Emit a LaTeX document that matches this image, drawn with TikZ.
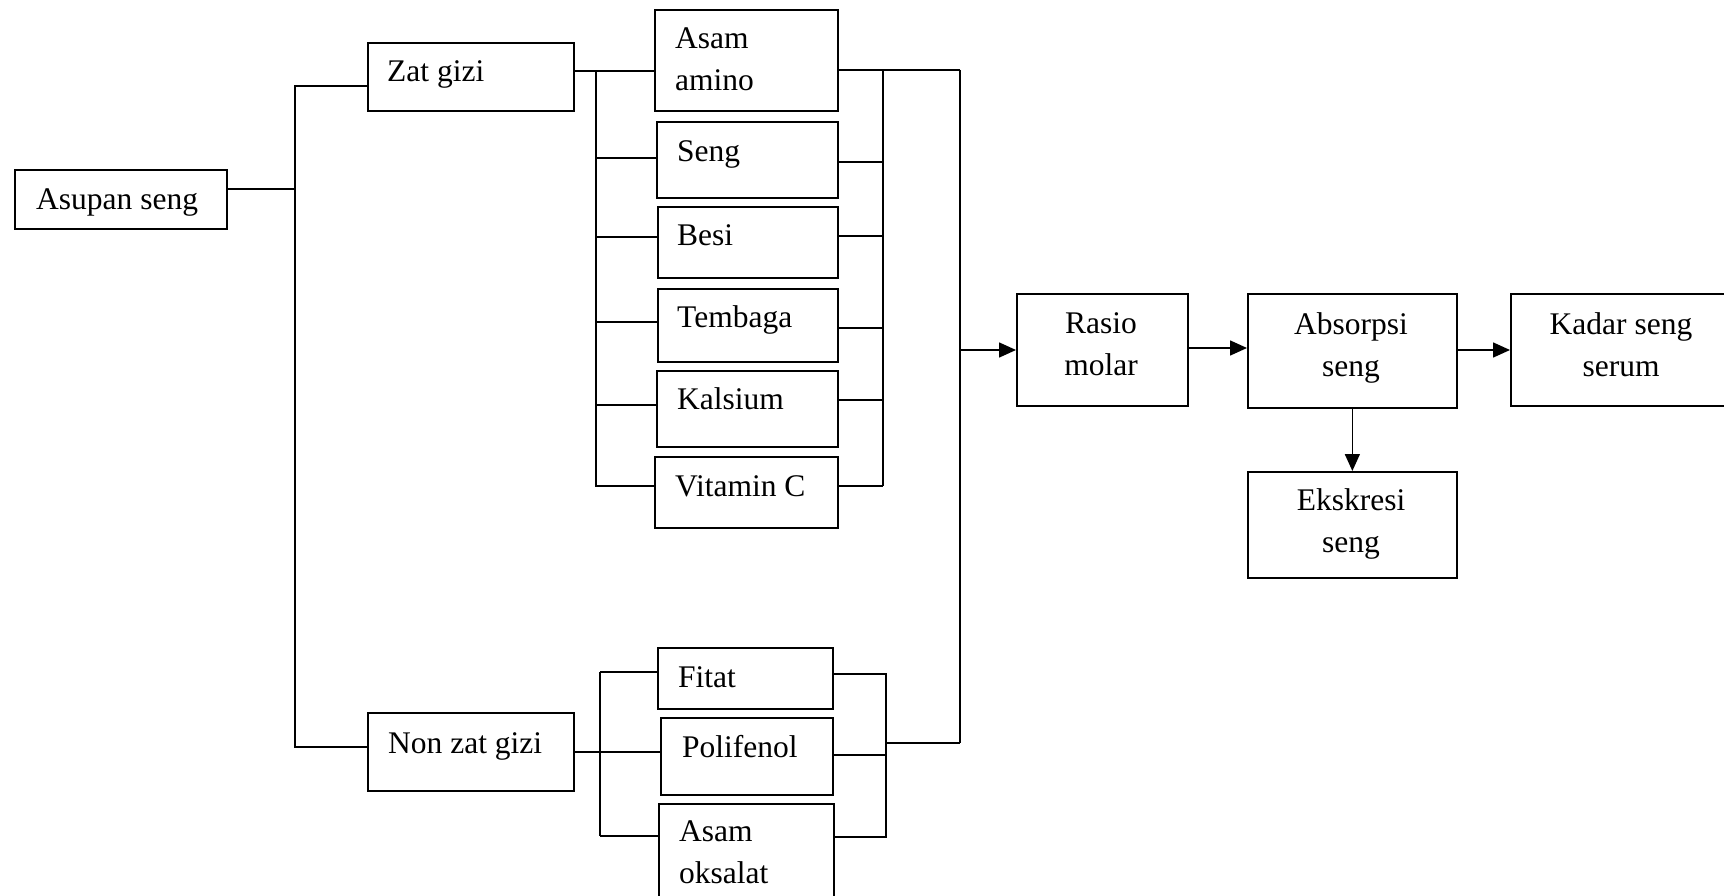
\documentclass[tikz,border=0pt]{standalone}
\usepackage{fontspec}
\setmainfont{Liberation Serif}
\usetikzlibrary{arrows.meta}
\begin{document}
\begin{tikzpicture}[x=1pt,y=-1pt,
  box/.style={draw,line width=1.7pt,inner sep=0pt,anchor=north west},
  lbl/.style={inner sep=0pt,anchor=base west,font=\fontsize{31.5}{42}\selectfont},
  clbl/.style={inner sep=0pt,anchor=base,align=center,font=\fontsize{31.5}{42}\selectfont},
  wire/.style={line width=1.5pt},
  arr/.style={line width=1.5pt,-{Triangle[length=17pt,width=15pt]}}]
\useasboundingbox (0,0) rectangle (1724,896);
\clip (0,0) rectangle (1724,896);
% boxes
\node[box,minimum width=212pt,minimum height=59pt] (asupan) at (14,169) {};
\node[box,minimum width=206pt,minimum height=68pt] (zat) at (367,42) {};
\node[box,minimum width=206pt,minimum height=78pt] (non) at (367,712) {};
\node[box,minimum width=183pt,minimum height=101pt] (asam) at (654,9) {};
\node[box,minimum width=181pt,minimum height=76pt] (seng) at (656,121) {};
\node[box,minimum width=180pt,minimum height=71pt] (besi) at (657,206) {};
\node[box,minimum width=180pt,minimum height=73pt] (tembaga) at (657,288) {};
\node[box,minimum width=181pt,minimum height=76pt] (kalsium) at (656,370) {};
\node[box,minimum width=183pt,minimum height=71pt] (vitc) at (654,456) {};
\node[box,minimum width=175pt,minimum height=61pt] (fitat) at (657,647) {};
\node[box,minimum width=172pt,minimum height=77pt] (poli) at (660,717) {};
\node[box,minimum width=175pt,minimum height=110pt] (oks) at (658,803) {};
\node[box,minimum width=171pt,minimum height=112pt] (rasio) at (1016,293) {};
\node[box,minimum width=209pt,minimum height=114pt] (abs) at (1247,293) {};
\node[box,minimum width=230pt,minimum height=112pt] (kadar) at (1510,293) {};
\node[box,minimum width=209pt,minimum height=106pt] (eks) at (1247,471) {};
% labels (multi-line labels are anchored at the baseline of their last line)
\node[lbl] (tasupan) at (36,210) {Asupan seng};
\node[lbl] (tzat) at (387,82) {Zat gizi};
\node[lbl] (tnon) at (388,753) {Non zat gizi};
\node[lbl,align=left] (tasam) at (675,91) {Asam\\amino};
\node[lbl] (tseng) at (677,162) {Seng};
\node[lbl] (tbesi) at (677,245) {Besi};
\node[lbl] (ttemb) at (677,327) {Tembaga};
\node[lbl] (tkal) at (677,409) {Kalsium};
\node[lbl] (tvit) at (675,496) {Vitamin C};
\node[lbl] (tfit) at (678,687) {Fitat};
\node[lbl] (tpoli) at (682,757) {Polifenol};
\node[lbl,align=left] (toks) at (679,883) {Asam\\oksalat};
\node[clbl] (trasio) at (1101,375) {Rasio\\molar};
\node[clbl] (tabs) at (1351,376) {Absorpsi\\seng};
\node[clbl] (tkadar) at (1621,376) {Kadar seng\\serum};
\node[clbl] (teks) at (1351,552) {Ekskresi\\seng};
% junctions
\coordinate (tA) at (295,189);
\coordinate (t1) at (295,86);
\coordinate (t2) at (295,747);
\coordinate (za) at (596,71);
\coordinate (zS) at (596,158);
\coordinate (zB) at (596,237);
\coordinate (zT) at (596,322);
\coordinate (zK) at (596,405);
\coordinate (zV) at (596,486);
\coordinate (ra) at (883,70);
\coordinate (rS) at (883,162);
\coordinate (rB) at (883,236);
\coordinate (rT) at (883,328);
\coordinate (rK) at (883,400);
\coordinate (rV) at (883,486);
\coordinate (fa) at (960,70);
\coordinate (fm) at (960,350);
\coordinate (fb) at (960,743);
\coordinate (nF) at (600,672);
\coordinate (nP) at (600,752);
\coordinate (nO) at (600,836);
\coordinate (mF) at (886,674);
\coordinate (mP) at (886,755);
\coordinate (mO) at (886,837);
\coordinate (mm) at (886,743);
\coordinate (a1) at (1200,348);
\coordinate (a2) at (1480,350);
% left tree
\draw[wire] (asupan.east |- tA) -- (tA);
\draw[wire] (zat.west |- t1) -- (t1) -- (t2) -- (non.west |- t2);
% zat gizi group
\draw[wire] (zat.east |- za) -- (asam.west |- za);
\draw[wire] (za) -- (zV) -- (vitc.west |- zV);
\draw[wire] (zS) -- (seng.west |- zS);
\draw[wire] (zB) -- (besi.west |- zB);
\draw[wire] (zT) -- (tembaga.west |- zT);
\draw[wire] (zK) -- (kalsium.west |- zK);
\draw[wire] (asam.east |- ra) -- (fa);
\draw[wire] (ra) -- (rV);
\draw[wire] (seng.east |- rS) -- (rS);
\draw[wire] (besi.east |- rB) -- (rB);
\draw[wire] (tembaga.east |- rT) -- (rT);
\draw[wire] (kalsium.east |- rK) -- (rK);
\draw[wire] (vitc.east |- rV) -- (rV);
% non zat gizi group
\draw[wire] (non.east |- nP) -- (poli.west |- nP);
\draw[wire] (nF) -- (nO);
\draw[wire] (nF) -- (fitat.west |- nF);
\draw[wire] (nO) -- (oks.west |- nO);
\draw[wire] (fitat.east |- mF) -- (mF) -- (mO) -- (oks.east |- mO);
\draw[wire] (poli.east |- mP) -- (mP);
\draw[wire] (mm) -- (fb);
\draw[wire] (fa) -- (fb);
% arrows
\draw[arr] (fm) -- (rasio.west |- fm);
\draw[arr] (rasio.east |- a1) -- (abs.west |- a1);
\draw[arr] (abs.east |- a2) -- (kadar.west |- a2);
\draw[arr] (abs.south) -- (eks.north);
\end{tikzpicture}
\end{document}
